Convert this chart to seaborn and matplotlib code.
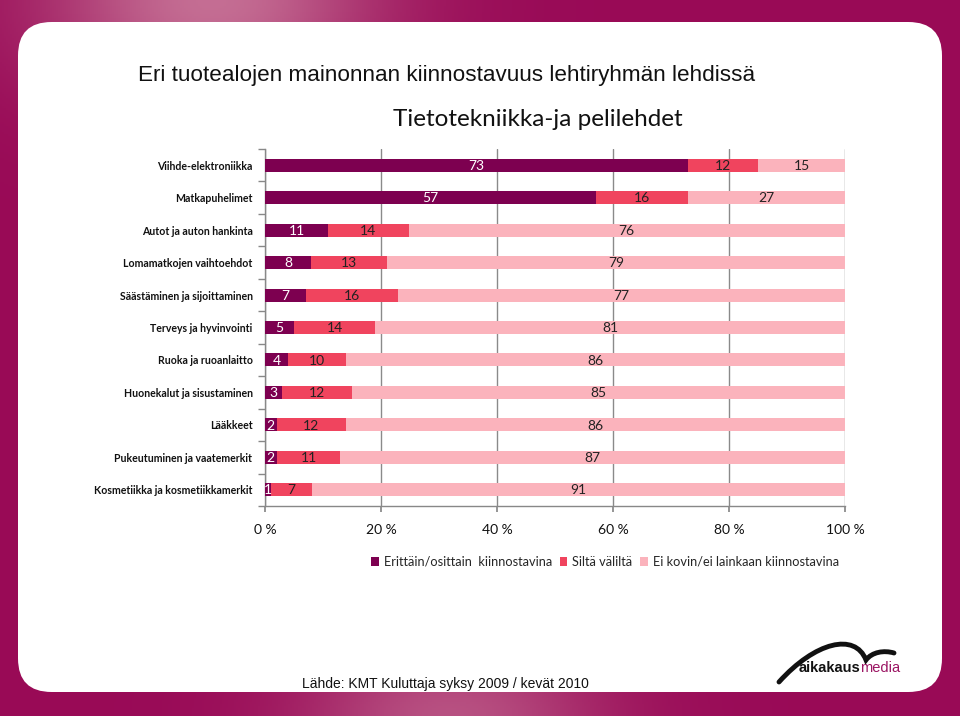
import numpy as np
import pandas as pd
import matplotlib
matplotlib.use("Agg")
import matplotlib.pyplot as plt
import seaborn as sns
from matplotlib.patches import FancyBboxPatch, Patch
from matplotlib.path import Path
from matplotlib.patches import PathPatch

categories = [
    "Viihde-elektroniikka",
    "Matkapuhelimet",
    "Autot ja auton hankinta",
    "Lomamatkojen vaihtoehdot",
    "Säästäminen ja sijoittaminen",
    "Terveys ja hyvinvointi",
    "Ruoka ja ruoanlaitto",
    "Huonekalut ja sisustaminen",
    "Lääkkeet",
    "Pukeutuminen ja vaatemerkit",
    "Kosmetiikka ja kosmetiikkamerkit",
]
kiinnostavina = [73, 57, 11, 8, 7, 5, 4, 3, 2, 2, 1]
silta_valilta = [12, 16, 14, 13, 16, 14, 10, 12, 12, 11, 7]
ei_kiinnostavina = [15, 27, 76, 79, 77, 81, 86, 85, 86, 87, 91]
series_names = ["Erittäin/osittain  kiinnostavina", "Siltä väliltä",
                "Ei kovin/ei lainkaan kiinnostavina"]
x_ticks = [0, 20, 40, 60, 80, 100]
x_ticklabels = ["0 %", "20 %", "40 %", "60 %", "80 %", "100 %"]

title = "Eri tuotealojen mainonnan kiinnostavuus lehtiryhmän lehdissä"
subtitle = "Tietotekniikka-ja pelilehdet"
source = "Lähde: KMT Kuluttaja syksy 2009 / kevät 2010"

colors = ["#7D0050", "#F0445E", "#FBB3BC"]

sns.set_theme(style="white")
plt.rcParams["font.family"] = ["Lato", "DejaVu Sans"]

W, H = 960, 716
fig = plt.figure(figsize=(9.6, 7.16), dpi=100)

# ---- background gradient ----
bg = fig.add_axes([0, 0, 1, 1], zorder=-10)
bg.set_axis_off()
xx, yy = np.meshgrid(np.linspace(0, 1, 480), np.linspace(0, 1, 358))
base = np.array([0.60, 0.04, 0.34])
light = np.array([0.80, 0.50, 0.62])
glow = np.exp(-((xx - 0.22) ** 2) / 0.03) * np.exp(-(yy) ** 2 / 0.02) * 0.85
glow += np.exp(-((xx - 0.47) ** 2) / 0.025) * np.exp(-((yy - 1) ** 2) / 0.01) * 0.6
glow = np.clip(glow, 0, 1)[..., None]
img = base * (1 - glow) + light * glow
bg.imshow(img, extent=[0, 1, 0, 1], aspect="auto", origin="upper")
bg.set_xlim(0, 1)
bg.set_ylim(0, 1)
panel = FancyBboxPatch((18 / W, 1 - 692 / H), (942 - 18) / W, (692 - 22) / H,
                       boxstyle="round,pad=0,rounding_size=0.035",
                       transform=bg.transAxes, facecolor="white", edgecolor="none",
                       mutation_aspect=W / H)
bg.add_patch(panel)

# ---- data ----
df = pd.DataFrame({
    "cat": categories,
    "a": kiinnostavina,
    "b": silta_valilta,
    "c": ei_kiinnostavina,
})
tot = df[["a", "b", "c"]].sum(axis=1)
df["pa"] = df["a"] / tot * 100
df["pb"] = df["b"] / tot * 100
df["pc"] = df["c"] / tot * 100
df["cum1"] = df["pa"]
df["cum2"] = df["pa"] + df["pb"]
df["cum3"] = df["pa"] + df["pb"] + df["pc"]

ax = fig.add_axes([265 / W, 1 - 506 / H, (845 - 265) / W, (506 - 149) / H])
ax.set_facecolor("none")
for col, c in zip(["cum3", "cum2", "cum1"], colors[::-1]):
    sns.barplot(data=df, x=col, y="cat", orient="h", color=c, width=0.4,
                saturation=1, ax=ax, zorder=3, edgecolor="none", linewidth=0)

ax.set_xlim(0, 100)
ax.set_ylim(len(categories) - 0.5, -0.5)
ax.set_xlabel("")
ax.set_ylabel("")
ax.set_xticks(x_ticks)
ax.set_xticklabels(x_ticklabels, fontsize=10, color="#111111")
ax.tick_params(axis="x", which="major", length=4, color="#888888", direction="out",
               pad=9, bottom=True)
ax.set_yticks(range(len(categories)))
ax.set_yticklabels(categories, fontsize=7.6, fontweight="bold", color="#111111")
ax.tick_params(axis="y", which="major", length=0, pad=9)
ax.set_yticks(np.arange(-0.5, len(categories), 1), minor=True)
ax.tick_params(axis="y", which="minor", length=5, color="#888888", left=True)
ax.grid(axis="x", color="#8a8a8a", linewidth=1, zorder=0)
ax.grid(axis="y", visible=False)
ax.set_axisbelow(True)
for s in ["top", "right"]:
    ax.spines[s].set_visible(False)
for s in ["left", "bottom"]:
    ax.spines[s].set_color("#888888")
    ax.spines[s].set_linewidth(1)

# value labels
for i, row in df.iterrows():
    centers = [row["pa"] / 2, row["pa"] + row["pb"] / 2,
               row["pa"] + row["pb"] + row["pc"] / 2]
    vals = [row["a"], row["b"], row["c"]]
    for k, (cx, v) in enumerate(zip(centers, vals)):
        ax.text(cx, i + 0.02, f"{v}", ha="center", va="center", fontsize=10,
                color="white" if k == 0 else "#222222", zorder=5)

# legend
handles = [Patch(facecolor=c, edgecolor="none") for c in colors]
fig.legend(handles, series_names, loc="center", bbox_to_anchor=(605 / W, 1 - 562 / H),
           ncol=3, frameon=False, fontsize=9.2, handlelength=0.6, handleheight=0.6,
           handletextpad=0.4, columnspacing=0.6)

# titles
fig.text(138 / W, 1 - 76 / H, title, fontsize=16.2, family="Liberation Sans",
         ha="left", va="center", color="#111111")
fig.text(538 / W, 1 - 120 / H, subtitle, fontsize=17.5, ha="center", va="center",
         color="#111111")
fig.text(445 / W, 1 - 684 / H, source, fontsize=10, family="Liberation Sans",
         ha="center", va="center", color="#111111")

# logo
fig.text(860 / W, 1 - 668 / H, "aikakaus", fontsize=10.5, family="Liberation Sans",
         ha="right", va="center", color="#111111", fontweight="bold")
fig.text(860 / W, 1 - 668 / H, "media", fontsize=10.5, family="Liberation Sans",
         ha="left", va="center", color="#9B1563")
verts = [(779, 682), (815, 642), (855, 632), (866, 660),
         (872, 652), (884, 650), (894, 653)]
codes = [Path.MOVETO, Path.CURVE4, Path.CURVE4, Path.CURVE4,
         Path.CURVE4, Path.CURVE4, Path.CURVE4]
v = [(x / W, 1 - y / H) for x, y in verts]
bg.add_patch(PathPatch(Path(v, codes), transform=bg.transAxes, facecolor="none",
                       edgecolor="#111111", linewidth=3.5, capstyle="round"))

fig.savefig("out.png", dpi=100)
